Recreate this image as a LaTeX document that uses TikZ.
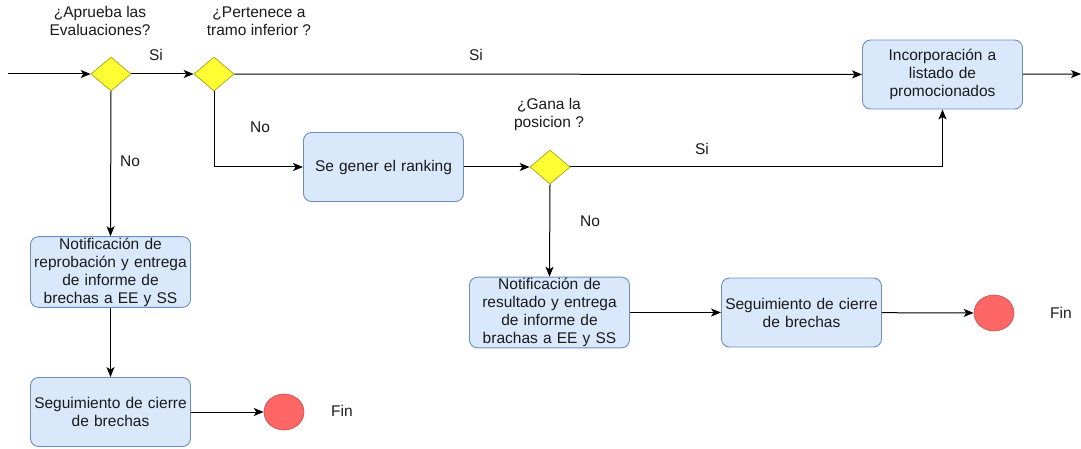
\documentclass[tikz,border=0pt]{standalone}
\usepackage{fontspec}
\setmainfont{Liberation Sans}
\usetikzlibrary{shapes.geometric,arrows.meta}
\definecolor{boxfill}{HTML}{DAE8FC}
\definecolor{boxline}{HTML}{6C8EBF}
\definecolor{decfill}{HTML}{FFFF33}
\definecolor{decline}{HTML}{999900}
\definecolor{endfill}{HTML}{FF6666}
\definecolor{endline}{HTML}{B85450}
\definecolor{txt}{HTML}{1A1A1A}
\begin{document}
\begin{tikzpicture}[x=1pt,y=-1pt,
  every node/.style={font=\fontsize{15.5}{18}\selectfont, text=txt},
  task/.style={draw=boxline, fill=boxfill, rounded corners=8pt, line width=0.9pt,
    minimum width=160pt, minimum height=69pt, text width=158pt, align=center, inner sep=1pt},
  decision/.style={draw=decline, fill=decfill, diamond, minimum width=40pt,
    minimum height=34pt, inner sep=0pt, aspect=1.18, line width=0.6pt},
  endstate/.style={draw=endline, fill=endfill, ellipse, minimum width=40pt,
    minimum height=36pt, inner sep=0pt, line width=0.6pt},
  lbl/.style={align=center, inner sep=0pt},
  arr/.style={draw=black, line width=1pt, -{Stealth[length=10pt,width=8pt,inset=2.5pt]}}
]
\useasboundingbox (0,0) rectangle (1081,449);

% decisions
\node[decision] (d1) at (111,74) {};
\node[decision] (d2) at (214,74) {};
\node[decision] (d3) at (550,167) {};

% tasks
\node[task] (inc)  at (942.5,74.5) {Incorporación a\\listado de\\promocionados};
\node[task] (rank) at (383.5,167)  {Se gener el ranking};
\node[task] (nrep) at (110.5,272)  {Notificación de\\reprobación y entrega\\de informe de\\brechas a EE y SS};
\node[task] (seg1) at (110.5,412)  {Seguimiento de cierre\\de brechas};
\node[task] (nres) at (549.5,312.5){Notificación de\\resultado y entrega\\de informe de\\brachas a EE y SS};
\node[task] (seg2) at (801.5,312.5){Seguimiento de cierre\\de brechas};

% end states
\node[endstate] (fin1) at (284,412) {};
\node[endstate] (fin2) at (994,313) {};

% free ends
\coordinate (start) at (8,74);
\coordinate (out) at (1081,74);

% connectors
\draw[arr] (start) -- (d1);
\draw[arr] (d1) -- (d2);
\draw[arr] (d2) -- (inc);
\draw[arr] (inc) -- (out);
\draw[arr] (d2.south) |- (rank.west);
\draw[arr] (rank) -- (d3);
\draw[arr] (d3.east) -| (inc.south);
\draw[arr] (d3.south) -- (nres.north);
\draw[arr] (nres) -- (seg2);
\draw[arr] (seg2) -- (fin2);
\draw[arr] (d1.south) -- (nrep.north);
\draw[arr] (nrep) -- (seg1);
\draw[arr] (seg1) -- (fin1);

% labels
\node[lbl] (q1) at (100,21) {¿Aprueba las\\Evaluaciones?};
\node[lbl] (q2) at (259,21) {¿Pertenece a\\tramo inferior ?};
\node[lbl] (q3) at (549,114) {¿Gana la\\posicion ?};
\node[lbl] (l1) at (156,55) {Si};
\node[lbl] (l2) at (476,55) {Si};
\node[lbl] (l3) at (702,149) {Si};
\node[lbl] (l4) at (260,127) {No};
\node[lbl] (l5) at (130,161) {No};
\node[lbl] (l6) at (590,221) {No};
\node[lbl] (f1) at (342,411) {Fin};
\node[lbl] (f2) at (1061,313) {Fin};
\end{tikzpicture}
\end{document}
